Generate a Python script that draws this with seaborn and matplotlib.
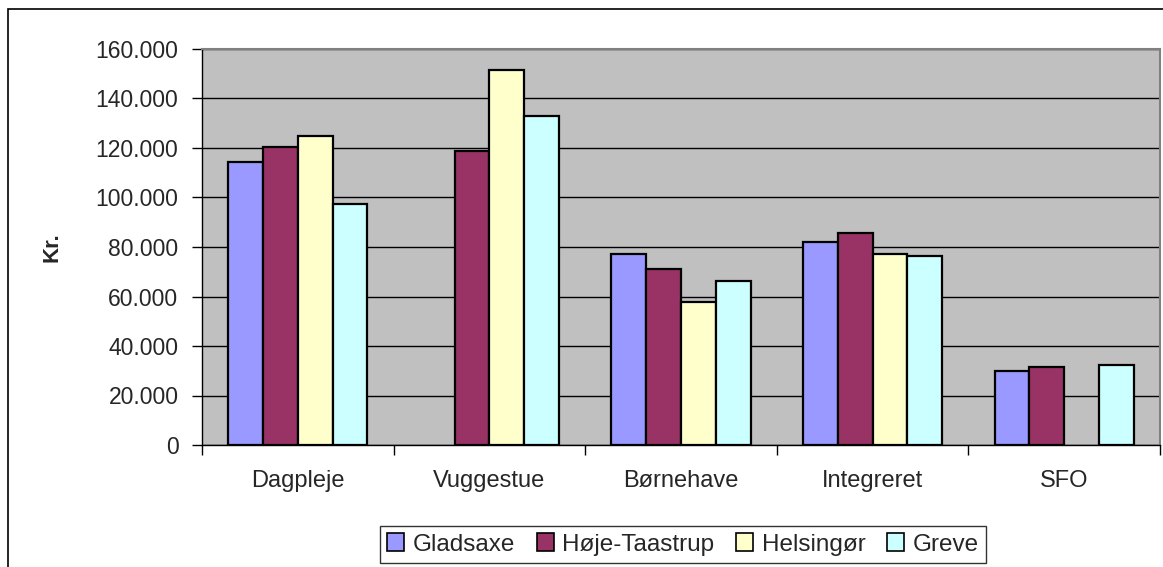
import matplotlib
matplotlib.use("Agg")
import matplotlib.pyplot as plt
import matplotlib.patches as patches
from matplotlib.ticker import FuncFormatter, FixedLocator
import numpy as np
import pandas as pd
import seaborn as sns

# data (kr. per place)
kategorier = ["Dagpleje", "Vuggestue", "Børnehave", "Integreret", "SFO"]
kommuner = ["Gladsaxe", "Høje-Taastrup", "Helsingør", "Greve"]
gladsaxe = [114200, np.nan, 77200, 81900, 30000]
hoeje_taastrup = [120400, 118900, 71000, 85800, 31500]
helsingoer = [125000, 151400, 57800, 77000, np.nan]
greve = [97200, 132800, 66400, 76500, 32500]
farver = ["#9999FF", "#993366", "#FFFFCC", "#CCFFFF"]

rows = []
for kommune, vals in zip(kommuner, [gladsaxe, hoeje_taastrup, helsingoer, greve]):
    for kat, v in zip(kategorier, vals):
        rows.append({"kategori": kat, "kommune": kommune, "kr": v})
df = pd.DataFrame(rows)

sns.set_style("white")
plt.rcParams["font.family"] = ["Liberation Sans", "DejaVu Sans"]

fig = plt.figure(figsize=(11.63, 5.67), dpi=100)
ax = fig.add_axes([202 / 1163, 1 - 445 / 567, 958 / 1163, 396 / 567])

sns.barplot(data=df, x="kategori", y="kr", hue="kommune", order=kategorier,
            hue_order=kommuner, palette=farver, width=0.727, saturation=1,
            edgecolor="black", linewidth=1.6, errorbar=None, ax=ax, zorder=3)

ax.set_facecolor("#C0C0C0")
ax.set_ylim(0, 160000)
ax.set_xlim(-0.5, 4.5)
ax.set_yticks(np.arange(0, 160001, 20000))
ax.yaxis.set_major_formatter(FuncFormatter(lambda v, p: f"{int(v):,}".replace(",", ".")))
ax.grid(axis="y", color="black", linewidth=1, zorder=0)
ax.set_axisbelow(True)

# category ticks sit between the groups
ax.xaxis.set_minor_locator(FixedLocator(np.arange(-0.5, 5.0, 1.0)))
ax.tick_params(axis="x", which="major", length=0, pad=18, labelsize=17)
ax.tick_params(axis="x", which="minor", length=7, width=1, color="black", bottom=True)
ax.tick_params(axis="y", length=7, width=1, color="black", left=True, pad=10, labelsize=16.5)

for side in ["top", "right"]:
    ax.spines[side].set_color("#808080")
    ax.spines[side].set_linewidth(1.5)
for side in ["left", "bottom"]:
    ax.spines[side].set_color("black")
    ax.spines[side].set_linewidth(1)

ax.set_xlabel("")
ax.set_ylabel("Kr.", fontsize=16, fontweight="bold")
ax.yaxis.set_label_coords(-0.146, 0.5)

ax.get_legend().remove()
handles = [patches.Patch(facecolor=c, edgecolor="black", linewidth=1.2) for c in farver]
leg = fig.legend(handles, kommuner, loc="center", bbox_to_anchor=(683 / 1163, 1 - 544.5 / 567),
                 ncol=4, frameon=True, fancybox=False, fontsize=17.5, handlelength=0.7,
                 handleheight=0.7, handletextpad=0.35, columnspacing=0.9,
                 borderpad=0.3, borderaxespad=0)
leg.get_frame().set_edgecolor("black")
leg.get_frame().set_linewidth(1)

# outer chart frame
fig.patches.append(patches.Rectangle((8 / 1163, -0.05), 1.1, 1 - 9 / 567 + 0.05,
                                     transform=fig.transFigure, fill=False,
                                     edgecolor="black", linewidth=1.2, zorder=0))

fig.savefig("out.png", dpi=100)
